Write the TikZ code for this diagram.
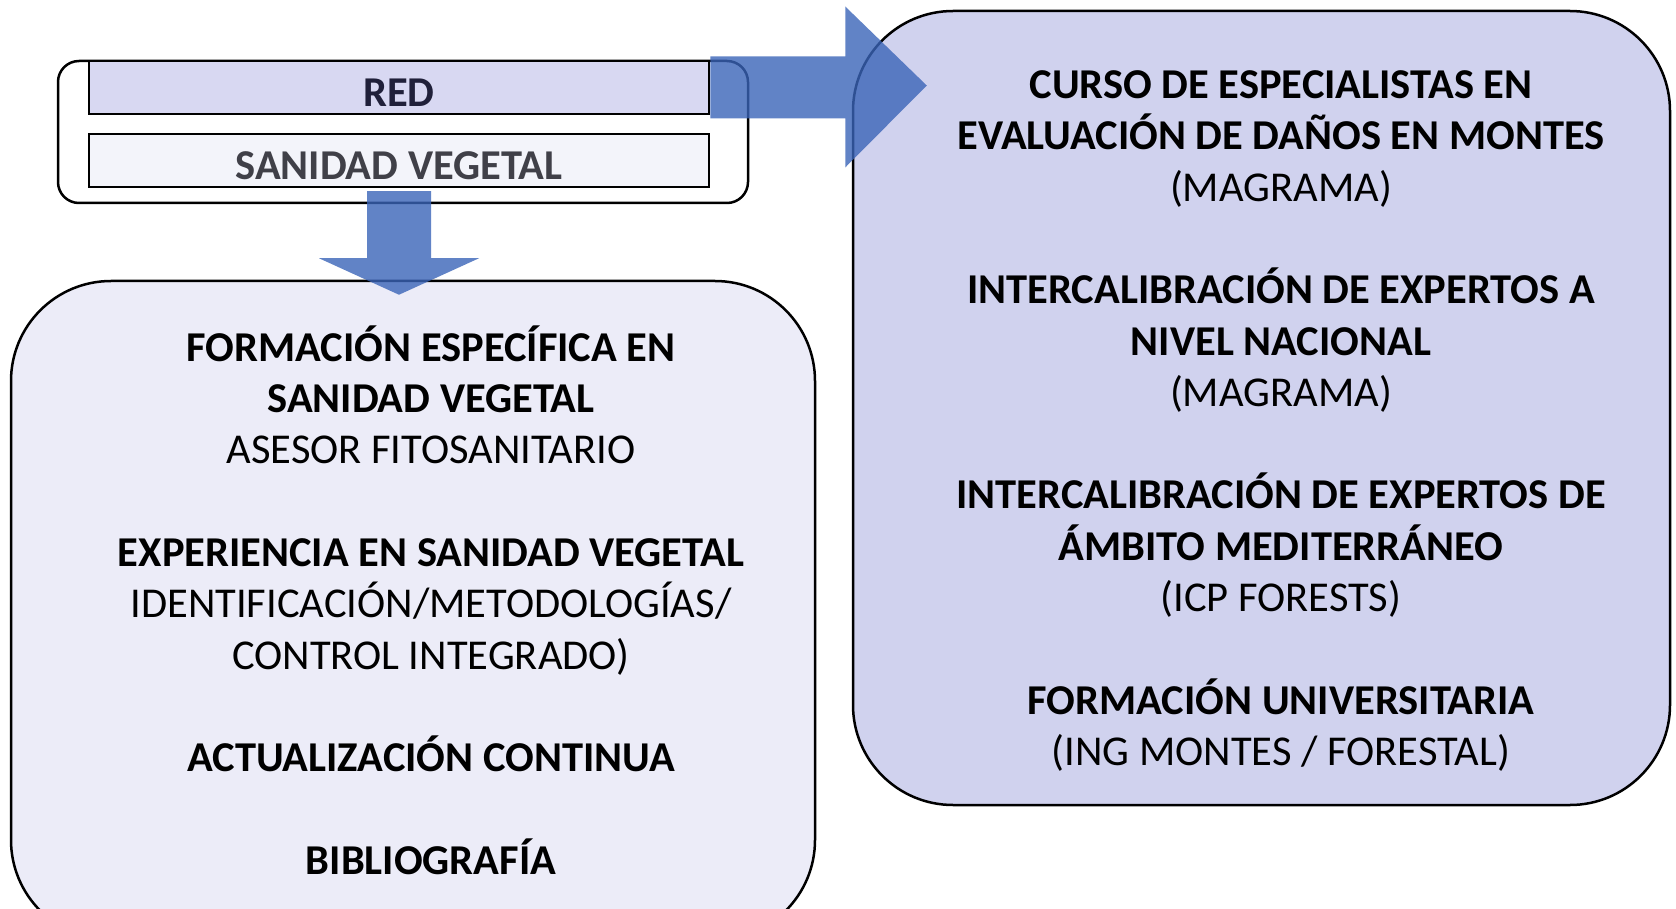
\documentclass[tikz,border=0pt]{standalone}
\usepackage{fontspec}
\setmainfont{Carlito}
\usetikzlibrary{positioning,calc}
\definecolor{redfill}{HTML}{D8D8F2}
\definecolor{sanfill}{HTML}{F3F4FA}
\definecolor{leftfill}{HTML}{ECECF8}
\definecolor{rightfill}{HTML}{D0D2EE}
\definecolor{arrowblue}{HTML}{3A64B8}
\definecolor{redtext}{HTML}{20203A}
\definecolor{santext}{HTML}{404048}
\newcommand{\bigsize}{\fontsize{42.5pt}{51.3pt}\selectfont}
\tikzset{
  barbox/.style={draw=black, line width=2.5pt, minimum width=620pt, minimum height=53pt,
    inner sep=0pt, text height=39pt, text depth=0pt, font=\bigsize\bfseries},
  bigbox/.style={draw=black, line width=2.5pt, rounded corners=100pt, inner sep=0pt},
  bodytext/.style={align=center, inner sep=0pt, font=\bigsize},
  blockarrow/.style={fill=arrowblue, fill opacity=0.8}
}
\begin{document}
\begin{tikzpicture}[x=1pt,y=-1pt]
  \path[use as bounding box, clip] (0,0) rectangle (1676,909);
  % red / sanidad vegetal
  \node[draw=black, line width=2.5pt, rounded corners=21pt, minimum width=690pt,
    minimum height=142pt, inner sep=0pt] (net) at (403,132) {};
  \node[barbox, fill=redfill, text=redtext] (red) at (399,87.5) {RED};
  \node[barbox, fill=sanfill, text=santext] (san) at (399,160.5) {SANIDAD VEGETAL};
  % the two big boxes
  \node[bigbox, fill=leftfill, minimum width=804pt, minimum height=659pt] (left) at (413,610.5) {};
  \node[bigbox, fill=rightfill, minimum width=817pt, minimum height=794pt] (right) at (1261.5,408) {};
  % block arrows
  \coordinate (rtip) at ($(right.west |- red.east)+(75,-2)$);
  \coordinate (dtip) at ($(san.south |- left.north)+(0,15)$);
  \fill[blockarrow] ($(red.east)+(0,-31)$) -- ++(135,0) -- ++(0,-50) -- (rtip)
    -- ($(red.east)+(135,80)$) -- ++(0,-49) -- ($(red.east)+(0,31)$) -- cycle;
  \fill[blockarrow] ($(san.south)+(-32,3)$) -- ++(0,67) -- ++(-48,0) -- (dtip)
    -- ($(san.south)+(80,70)$) -- ++(-48,0) -- ($(san.south)+(32,3)$) -- cycle;
  % texts
  \node[bodytext] (lefttext) at (431,600) {%
    \textbf{FORMACIÓN ESPECÍFICA EN}\\
    \textbf{SANIDAD VEGETAL}\\
    ASESOR FITOSANITARIO\\[51.3pt]
    \textbf{EXPERIENCIA EN SANIDAD VEGETAL}\\
    IDENTIFICACIÓN/METODOLOGÍAS/\\
    CONTROL INTEGRADO)\\[51.3pt]
    \textbf{ACTUALIZACIÓN CONTINUA}\\[51.3pt]
    \textbf{BIBLIOGRAFÍA}};
  \node[bodytext] (righttext) at (1281,421) {%
    \textbf{CURSO DE ESPECIALISTAS EN}\\
    \textbf{EVALUACIÓN DE DAÑOS EN MONTES}\\
    (MAGRAMA)\\[51.3pt]
    \textbf{INTERCALIBRACIÓN DE EXPERTOS A}\\
    \textbf{NIVEL NACIONAL}\\
    (MAGRAMA)\\[51.3pt]
    \textbf{INTERCALIBRACIÓN DE EXPERTOS DE}\\
    \textbf{ÁMBITO MEDITERRÁNEO}\\
    (ICP FORESTS)\\[51.3pt]
    \textbf{FORMACIÓN UNIVERSITARIA}\\
    (ING MONTES / FORESTAL)};
\end{tikzpicture}
\end{document}
